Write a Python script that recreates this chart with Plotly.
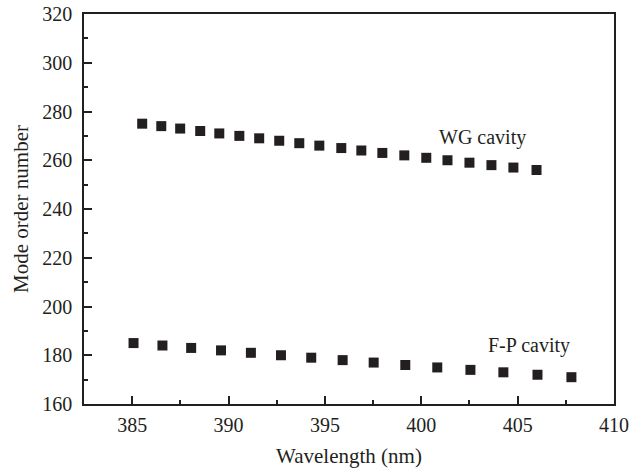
import plotly.graph_objects as go

wg_wavelength = [385.52, 386.51, 387.49, 388.53, 389.52, 390.56, 391.59, 392.63, 393.67, 394.71,
                 395.85, 396.89, 397.98, 399.12, 400.26, 401.36, 402.50, 403.64, 404.78, 405.98]
wg_mode = [275, 274, 273, 272, 271, 270, 269, 268, 267, 266,
           265, 264, 263, 262, 261, 260, 259, 258, 257, 256]

fp_wavelength = [385.07, 386.57, 388.06, 389.61, 391.16, 392.72, 394.29, 395.92,
                 397.53, 399.17, 400.83, 402.55, 404.26, 406.03, 407.79]
fp_mode = [185, 184, 183, 182, 181, 180, 179, 178, 177, 176, 175, 174, 173, 172, 171]

ink = "#231f20"
font_family = "Liberation Serif, Times New Roman, serif"

fig = go.Figure()
for xs, ys in [(wg_wavelength, wg_mode), (fp_wavelength, fp_mode)]:
    fig.add_trace(go.Scatter(x=xs, y=ys, mode="markers",
                             marker=dict(symbol="square", size=10, color=ink,
                                         line=dict(width=0)),
                             showlegend=False))

fig.add_annotation(x=403.17, y=269.5, xref="x", yref="y", text="WG cavity",
                   showarrow=False, font=dict(size=20, color=ink, family=font_family))
fig.add_annotation(x=405.6, y=183.8, xref="x", yref="y", text="F-P cavity",
                   showarrow=False, font=dict(size=20, color=ink, family=font_family))

axis_common = dict(showline=True, linecolor=ink, linewidth=1.5, mirror=True,
                   ticks="inside", ticklen=8, tickwidth=1.5, tickcolor=ink,
                   showgrid=False, zeroline=False,
                   tickfont=dict(size=20, color=ink, family=font_family))

fig.update_xaxes(range=[382.5, 410], dtick=5, tick0=385,
                 minor=dict(dtick=2.5, tick0=385, ticks="inside", ticklen=4,
                            tickwidth=1.5, tickcolor=ink, showgrid=False),
                 ticklabelstandoff=2,
                 title=dict(text="Wavelength (nm)", standoff=14,
                            font=dict(size=21, color=ink, family=font_family)),
                 **axis_common)
fig.update_yaxes(range=[160, 320], dtick=20, tick0=160,
                 minor=dict(dtick=10, tick0=160, ticks="inside", ticklen=4,
                            tickwidth=1.5, tickcolor=ink, showgrid=False),
                 ticklabelstandoff=6,
                 title=dict(text="Mode order number", standoff=8,
                            font=dict(size=21, color=ink, family=font_family)),
                 **axis_common)

fig.update_layout(width=644, height=468,
                  margin=dict(l=84, r=30, t=14, b=64, autoexpand=False),
                  paper_bgcolor="white", plot_bgcolor="white",
                  font=dict(family=font_family, color=ink))

fig.write_html("out.html")
